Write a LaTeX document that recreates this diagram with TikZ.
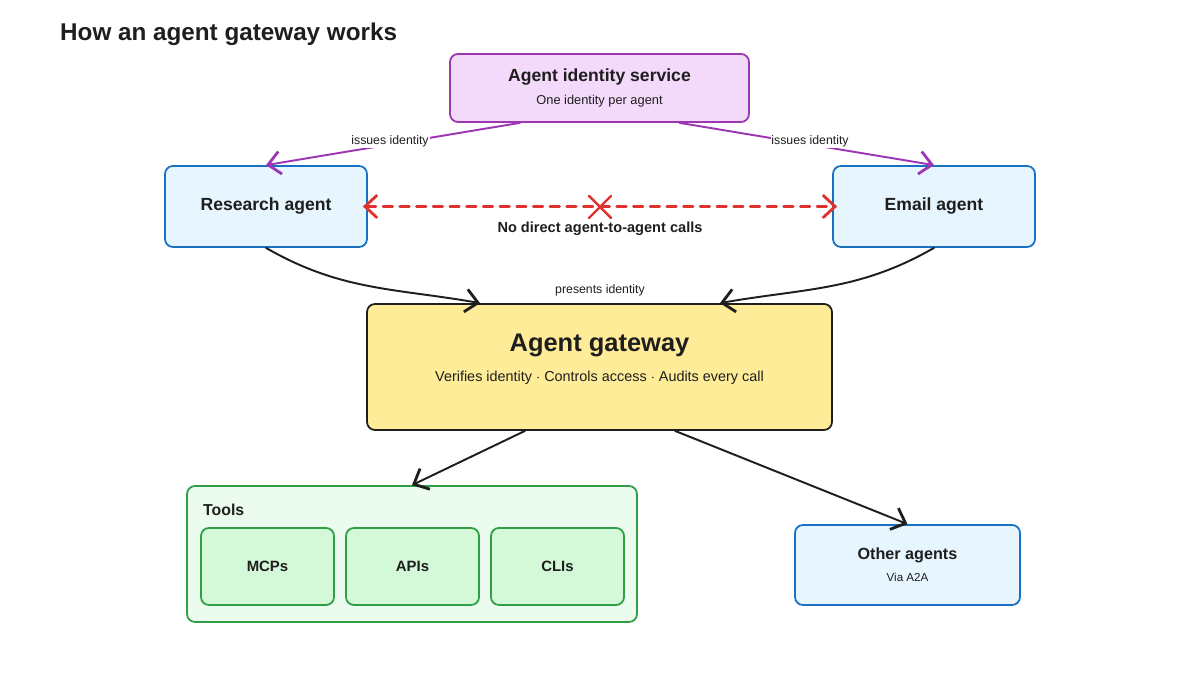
\documentclass[tikz,border=0pt]{standalone}
\usepackage{fontspec}
\setmainfont{Liberation Sans}
\usetikzlibrary{arrows.meta}
\definecolor{ink}{HTML}{1E1E1E}
\definecolor{purpstroke}{HTML}{9C36B5}
\definecolor{purpfill}{HTML}{F3D9FA}
\definecolor{bluestroke}{HTML}{1971C2}
\definecolor{bluefill}{HTML}{E7F5FF}
\definecolor{greenstroke}{HTML}{2F9E44}
\definecolor{greenfill}{HTML}{EBFBEE}
\definecolor{greenbox}{HTML}{D3F9D8}
\definecolor{yellowfill}{HTML}{FFEC99}
\definecolor{redline}{HTML}{E03131}

\begin{document}
\begin{tikzpicture}[x=0.02cm,y=0.02cm,color=ink,
    box/.style={draw,rounded corners=4.5pt,line width=1pt,inner sep=0pt},
    bluebox/.style={box,draw=bluestroke,fill=bluefill},
    toolbox/.style={box,draw=greenstroke,fill=greenbox,minimum width=2.66cm,minimum height=1.54cm,font=\bfseries\fontsize{8.5}{10}\selectfont},
    lbl/.style={font=\fontsize{7}{8}\selectfont,inner sep=1pt},
    barb/.tip={Straight Barb[length=7pt,width=13pt,line width=1.6pt]},
    arr/.style={line width=1.1pt,line cap=round,-barb}]
    \fill[white] (0,0) rectangle (1200,675);
    \useasboundingbox (0,0) rectangle (1200,675);

    \node[anchor=west,font=\bfseries\fontsize{13.8}{16}\selectfont] (title) at (54,641) {How an agent gateway works};

    % identity service and the two agents
    \node[box,draw=purpstroke,fill=purpfill,minimum width=5.98cm,minimum height=1.36cm] (ids) at (599.5,587) {};
    \node[font=\bfseries\fontsize{10}{12}\selectfont] (idstitle) at (599.5,598) {Agent identity service};
    \node[font=\fontsize{7.3}{9}\selectfont] (idssub) at (599.5,574) {One identity per agent};
    \node[bluebox,minimum width=4.04cm,minimum height=1.62cm,font=\bfseries\fontsize{10}{12}\selectfont] (ra) at (266,468.5) {Research agent};
    \node[bluebox,minimum width=4.04cm,minimum height=1.62cm,font=\bfseries\fontsize{10}{12}\selectfont] (ea) at (934,468.5) {Email agent};

    % gateway
    \node[box,fill=yellowfill,minimum width=9.3cm,minimum height=2.52cm] (gw) at (599.5,308) {};
    \node[font=\bfseries\fontsize{14.5}{17}\selectfont] (gwtitle) at (599.5,330) {Agent gateway};
    \node[font=\fontsize{8.2}{10}\selectfont] (gwsub) at (599.5,297) {Verifies identity $\cdot$ Controls access $\cdot$ Audits every call};

    % tools and other agents
    \node[box,draw=greenstroke,fill=greenfill,minimum width=9cm,minimum height=2.72cm] (tools) at (412,121) {};
    \node[anchor=west,font=\bfseries\fontsize{9}{11}\selectfont] (toolslbl) at (197,165) {Tools};
    \node[toolbox] (mcp) at (267.5,108.5) {MCPs};
    \node[toolbox] (api) at (412.5,108.5) {APIs};
    \node[toolbox] (cli) at (557.5,108.5) {CLIs};
    \node[bluebox,minimum width=4.5cm,minimum height=1.6cm] (oa) at (907.5,110) {};
    \node[font=\bfseries\fontsize{9.2}{11}\selectfont] (oatitle) at (907.5,120) {Other agents};
    \node[font=\fontsize{6.6}{8}\selectfont] (oasub) at (907.5,98) {Via A2A};

    % connectors
    \draw[arr,draw=purpstroke] ([xshift=-1.59cm]ids.south) -- (ra.north);
    \draw[arr,draw=purpstroke] ([xshift=1.6cm]ids.south) -- (ea.north);
    \node[lbl,fill=white,inner sep=0.5pt] (iss1) at (390,534) {issues identity};
    \node[lbl,fill=white,inner sep=0.5pt] (iss2) at (810,534) {issues identity};

    \draw[redline,line width=1.4pt,line cap=round,dash pattern=on 5.5pt off 4pt,barb-barb] ([xshift=-0.1cm]ra.east) -- ([xshift=0.1cm]ea.west);
    \coordinate (nocall) at (600,468);
    \draw[redline,line width=1.4pt,line cap=round] ([shift={(-0.22cm,-0.22cm)}]nocall) -- ([shift={(0.22cm,0.22cm)}]nocall)
        ([shift={(-0.22cm,0.22cm)}]nocall) -- ([shift={(0.22cm,-0.22cm)}]nocall);
    \node[font=\bfseries\fontsize{8.3}{10}\selectfont] (nolbl) at (600,446) {No direct agent-to-agent calls};

    \draw[arr] (ra.south) to[out=-30,in=170] ([xshift=-2.39cm]gw.north);
    \draw[arr] (ea.south) to[out=-150,in=10] ([xshift=2.41cm]gw.north);
    \node[lbl] (pres) at (600,385) {presents identity};

    \draw[arr] ([xshift=-1.49cm]gw.south) -- (tools.north);
    \draw[arr] ([xshift=1.51cm]gw.south) -- (oa.north);
\end{tikzpicture}
\end{document}
